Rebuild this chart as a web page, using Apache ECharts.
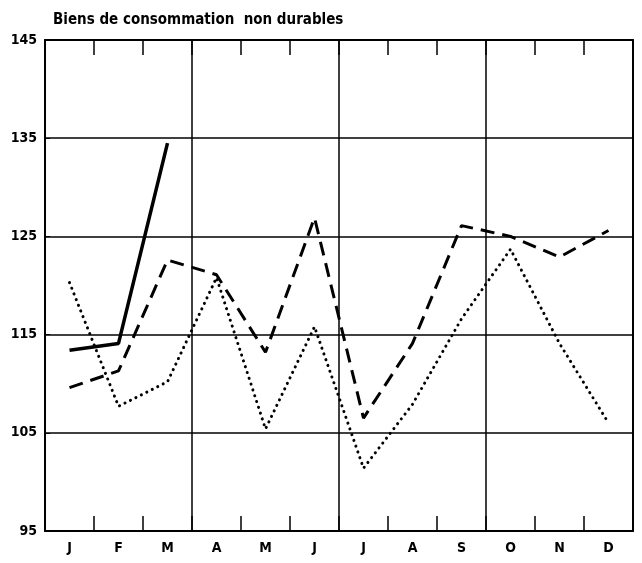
<!DOCTYPE html>
<html lang="fr">
<head>
  <meta charset="UTF-8">
  <title>Biens de consommation non durables</title>
  <script src="https://cdn.jsdelivr.net/npm/echarts@6/dist/echarts.min.js"></script>
  <style>
    body { margin: 0; background: #fff; }
    #chart { width: 642px; height: 563px; }
  </style>
</head>
<body>
  <div id="chart"></div>
  <script>
    const months = ['J', 'F', 'M', 'A', 'M', 'J', 'J', 'A', 'S', 'O', 'N', 'D'];
    // trait plein (année en cours, 3 mois)
    const solidSeries = [113.4, 114.1, 134.5];
    // tirets
    const dashedSeries = [109.6, 111.3, 122.6, 121.1, 113.2, 126.9, 106.5, 114.1, 126.1, 125.0, 122.9, 125.6];
    // pointillés
    const dottedSeries = [120.3, 107.7, 110.2, 120.8, 105.4, 115.8, 101.4, 107.9, 116.6, 123.7, 114.1, 106.0];

    const font = "'DejaVu Sans Condensed', 'Liberation Sans Narrow', sans-serif";
    const chart = echarts.init(document.getElementById('chart'));

    const option = {
      backgroundColor: '#fff',
      animation: false,
      title: {
        text: 'Biens de consommation  non durables',
        left: 48, top: 8,
        textStyle: { fontFamily: font, fontSize: 15, fontWeight: 'bold', color: '#000' }
      },
      grid: { left: 45, right: 9, top: 40, bottom: 32 },
      xAxis: [
        {
          type: 'category',
          data: months,
          boundaryGap: true,
          axisLine: { lineStyle: { color: '#000', width: 2 } },
          axisTick: { show: true, interval: 0, inside: true, length: 15, lineStyle: { color: '#000', width: 1.5 } },
          axisLabel: { fontFamily: font, fontSize: 14, fontWeight: 'bold', color: '#000', margin: 10 },
          splitLine: {
            show: true,
            interval: function (index) { return index > 0 && index % 3 === 0; },
            lineStyle: { color: '#000', width: 1.5 }
          }
        },
        {
          type: 'category',
          data: months,
          position: 'top',
          boundaryGap: true,
          axisLine: { lineStyle: { color: '#000', width: 2 } },
          axisTick: { show: true, interval: 0, inside: true, length: 15, lineStyle: { color: '#000', width: 1.5 } },
          axisLabel: { show: false },
          splitLine: { show: false }
        }
      ],
      yAxis: [
        {
          type: 'value',
          min: 95, max: 145, interval: 10,
          axisLine: { show: true, lineStyle: { color: '#000', width: 2 } },
          axisTick: { show: true, inside: true, length: 5, lineStyle: { color: '#000' } },
          axisLabel: { fontFamily: font, fontSize: 14, fontWeight: 'bold', color: '#000', margin: 8 },
          splitLine: { show: true, lineStyle: { color: '#000', width: 1.5 } }
        },
        {
          type: 'value',
          position: 'right',
          min: 95, max: 145, interval: 10,
          axisLine: { show: true, lineStyle: { color: '#000', width: 2 } },
          axisTick: { show: false },
          axisLabel: { show: false },
          splitLine: { show: false }
        }
      ],
      series: [
        {
          name: 'solid',
          type: 'line',
          data: solidSeries,
          symbol: 'none',
          lineStyle: { color: '#000', width: 3.5 }
        },
        {
          name: 'dashed',
          type: 'line',
          data: dashedSeries,
          symbol: 'none',
          lineStyle: { color: '#000', width: 3, type: [14, 8] }
        },
        {
          name: 'dotted',
          type: 'line',
          data: dottedSeries,
          symbol: 'none',
          lineStyle: { color: '#000', width: 3, type: [0.1, 6], cap: 'round' }
        }
      ]
    };

    chart.setOption(option);
  </script>
</body>
</html>
